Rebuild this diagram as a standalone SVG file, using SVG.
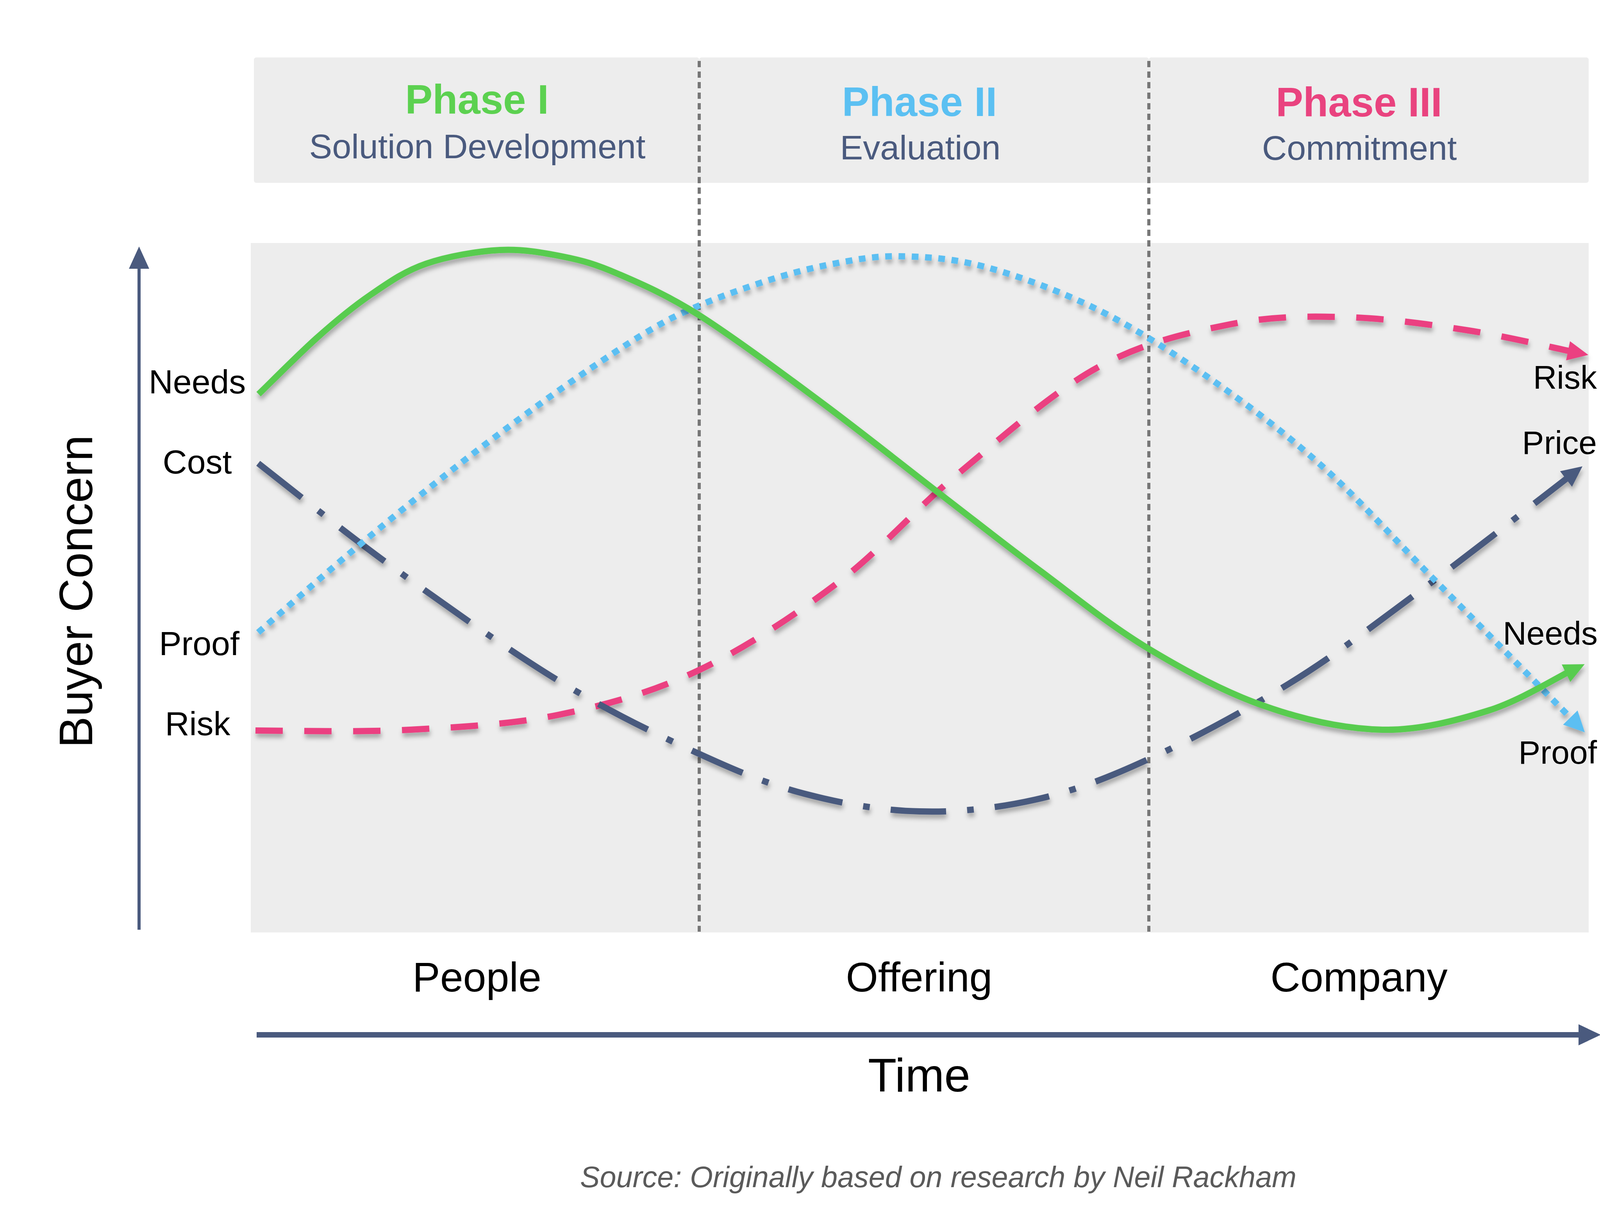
<svg xmlns="http://www.w3.org/2000/svg" width="4478" height="3100" viewBox="0 0 4478 3100">
<style>
text{font-family:"Liberation Sans",Arial,Helvetica,sans-serif}
.ph{font-weight:bold;font-size:105px;text-anchor:middle}
.sub{font-size:88px;fill:#4A5A7E;text-anchor:middle}
.lbl{font-size:86px;fill:#000;text-anchor:middle}
.rlbl{font-size:84px;fill:#000;text-anchor:end}
.cat{font-size:106px;fill:#000;text-anchor:middle}
.panel{fill:#EDEDED}
.divider{stroke:#777;stroke-width:8;stroke-dasharray:16 11;fill:none}
.curve{fill:none;stroke-width:16;filter:url(#sh)}
.axis{stroke:#4A5A7E;fill:none}
</style>
<defs>
<filter id="sh" filterUnits="userSpaceOnUse" x="0" y="0" width="4478" height="3100">
<feDropShadow dx="2" dy="10" stdDeviation="6" flood-color="#000" flood-opacity="0.3"/>
</filter>
<marker id="ahGreen" markerUnits="userSpaceOnUse" orient="auto" refX="0" refY="0" markerWidth="60" markerHeight="60" overflow="visible"><path d="M-10,-25 L43,0 L-10,25 z" fill="#58CC4F"/></marker>
<marker id="ahBlue" markerUnits="userSpaceOnUse" orient="auto" refX="0" refY="0" markerWidth="60" markerHeight="60" overflow="visible"><path d="M-10,-26 L43,0 L-10,26 z" fill="#5BBFF2"/></marker>
<marker id="ahPink" markerUnits="userSpaceOnUse" orient="auto" refX="0" refY="0" markerWidth="60" markerHeight="60" overflow="visible"><path d="M-10,-25 L43,0 L-10,25 z" fill="#EB4181"/></marker>
<marker id="ahNavy" markerUnits="userSpaceOnUse" orient="auto" refX="0" refY="0" markerWidth="60" markerHeight="60" overflow="visible"><path d="M-10,-25 L43,0 L-10,25 z" fill="#4A5A7E"/></marker>
</defs>
<rect width="4478" height="3100" fill="#FFFFFF"/>

<g id="header">
<rect class="panel" x="650" y="147" width="1140" height="321" rx="6"/>
<rect class="panel" x="1790" y="147" width="1151" height="321" rx="6"/>
<rect class="panel" x="2941" y="147" width="1126" height="321" rx="6"/>
</g>
<g id="phase1">
<text class="ph" x="1221" y="291" fill="#5CD150">Phase I</text>
<text class="sub" x="1222" y="405">Solution Development</text>
</g>
<g id="phase2">
<text class="ph" x="2354" y="297" fill="#5BC0F2">Phase II</text>
<text class="sub" x="2356" y="408">Evaluation</text>
</g>
<g id="phase3">
<text class="ph" x="3479" y="298" fill="#E9437F">Phase III</text>
<text class="sub" x="3480" y="409">Commitment</text>
</g>

<g id="plot-area">
<rect class="panel" x="642" y="622" width="3425" height="1765"/>
</g>

<g id="dividers">
<line class="divider" x1="1790" y1="156" x2="1790" y2="2385"/>
<line class="divider" x1="2941" y1="156" x2="2941" y2="2385"/>
</g>

<g id="axes">
<line class="axis" x1="356" y1="680" x2="356" y2="2380" stroke-width="8"/>
<polygon points="356,631 330,688 382,688" fill="#4A5A7E"/>
<line class="axis" x1="657" y1="2649" x2="4045" y2="2649" stroke-width="14"/>
<polygon points="4041,2622 4098,2649 4041,2676" fill="#4A5A7E"/>
<text x="0" y="0" transform="translate(236,1514) rotate(-90)" font-size="120" text-anchor="middle" fill="#000">Buyer Concern</text>
<text x="2353" y="2794" font-size="120" text-anchor="middle" fill="#000">Time</text>
</g>

<g id="connectors">
<path id="curve-risk" class="curve" stroke="#EB4181" stroke-dasharray="70 55" marker-end="url(#ahPink)" d="M654,1870 C720,1870 921,1875 1050,1868 C1179,1861 1306,1855 1429,1830 C1552,1805 1667,1773 1786,1717 C1905,1661 2032,1577 2143,1493 C2254,1409 2339,1307 2450,1215 C2561,1123 2694,1004 2811,940 C2928,876 3044,851 3150,830 C3257,809 3348,809 3450,812 C3552,815 3664,831 3760,846 C3856,861 3980,891 4024,900"/>
<path id="curve-cost" class="curve" stroke="#4A5A7E" stroke-width="17" stroke-dasharray="142 54 17 54" marker-end="url(#ahNavy)" d="M661,1186 C718,1230 872,1355 1000,1448 C1128,1541 1298,1662 1429,1742 C1560,1822 1681,1880 1786,1928 C1891,1976 1965,2007 2060,2032 C2155,2057 2256,2075 2354,2077 C2452,2080 2552,2069 2650,2047 C2748,2025 2833,1993 2941,1943 C3049,1894 3186,1820 3300,1750 C3414,1680 3505,1609 3624,1521 C3744,1433 3952,1270 4017,1220"/>
<path id="curve-proof" class="curve" stroke="#5BBFF2" stroke-width="15" stroke-dasharray="17 17" marker-end="url(#ahBlue)" d="M661,1619 C707,1579 842,1460 937,1381 C1032,1302 1135,1219 1231,1146 C1327,1073 1431,998 1512,943 C1594,888 1651,850 1720,814 C1790,779 1862,753 1929,730 C1996,707 2058,690 2120,678 C2182,666 2233,655 2300,656 C2368,657 2440,661 2525,684 C2610,707 2716,746 2811,793 C2906,840 3001,902 3096,968 C3191,1034 3287,1106 3382,1191 C3477,1276 3560,1370 3667,1479 C3775,1588 3967,1783 4027,1844"/>
<path id="curve-needs" class="curve" stroke="#58CC4F" marker-end="url(#ahGreen)" d="M662,1009 C687,985 762,909 810,866 C858,823 904,785 951,753 C998,721 1036,694 1091,675 C1146,656 1222,643 1280,640 C1338,637 1392,647 1442,657 C1492,667 1524,676 1582,701 C1640,726 1704,753 1790,807 C1876,862 1997,951 2100,1028 C2204,1105 2316,1195 2411,1268 C2506,1341 2580,1400 2668,1465 C2756,1531 2846,1604 2941,1661 C3036,1718 3139,1774 3239,1808 C3339,1843 3444,1866 3539,1868 C3634,1870 3730,1844 3810,1819 C3890,1794 3983,1736 4018,1719"/>
</g>

<g id="labels-left">
<text class="lbl" x="505" y="1007">Needs</text>
<text class="lbl" x="505" y="1212">Cost</text>
<text class="lbl" x="510" y="1677">Proof</text>
<text class="lbl" x="506" y="1882">Risk</text>
</g>
<g id="labels-right">
<text class="rlbl" x="4088" y="995">Risk</text>
<text class="rlbl" x="4088" y="1162">Price</text>
<text class="rlbl" x="4090" y="1650">Needs</text>
<text class="rlbl" x="4088" y="1955">Proof</text>
</g>

<g id="categories">
<text class="cat" x="1221" y="2538">People</text>
<text class="cat" x="2353" y="2538">Offering</text>
<text class="cat" x="3479" y="2538">Company</text>
</g>

<g id="source">
<text x="2402" y="3039" font-family="'Open Sans','Noto Sans',sans-serif" font-style="italic" font-size="75.5" fill="#5a5a5a" text-anchor="middle">Source: Originally based on research by Neil Rackham</text>
</g>
</svg>
